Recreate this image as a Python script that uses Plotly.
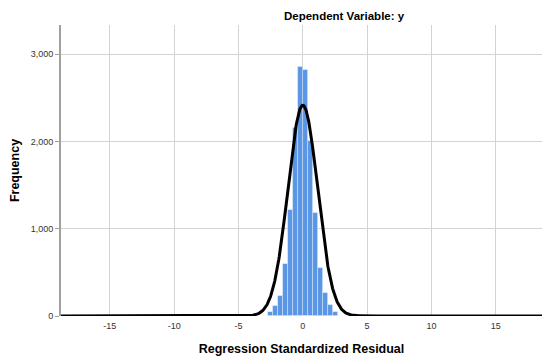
import numpy as np
import plotly.graph_objects as go

# Histogram data
bin_width = 0.39
bin_centers = [-2.535, -2.145, -1.755, -1.365, -0.975, -0.585, -0.195,
               0.195, 0.585, 0.975, 1.365, 1.755, 2.145, 2.535]
counts = [45, 115, 230, 600, 1210, 2150, 2850, 2820, 2010, 1180, 550, 265, 125, 50]

# Normal curve parameters
curve_mean = 0.0
curve_sd = 1.15
curve_peak = 2414

x_ticks = [-15, -10, -5, 0, 5, 10, 15]
y_ticks = [0, 1000, 2000, 3000]
y_tick_text = ["0", "1,000", "2,000", "3,000"]

x_range = [-18.8, 18.6]
y_range = [0, 3333]

xs = np.linspace(x_range[0], x_range[1], 1200)
ys = curve_peak * np.exp(-0.5 * ((xs - curve_mean) / curve_sd) ** 2)

font_family = "Arial, Liberation Sans, sans-serif"

fig = go.Figure()
fig.add_trace(go.Bar(
    x=bin_centers, y=counts, width=bin_width,
    marker=dict(color="#5a96e6", line=dict(color="rgba(255,255,255,0.45)", width=0.8)),
    showlegend=False, hoverinfo="skip",
))
fig.add_trace(go.Scatter(
    x=xs, y=ys, mode="lines",
    line=dict(color="#000000", width=3),
    showlegend=False, hoverinfo="skip", cliponaxis=False,
))

fig.update_layout(
    width=542, height=356,
    margin=dict(l=61, r=0, t=25, b=40),
    paper_bgcolor="white", plot_bgcolor="white",
    font=dict(family=font_family, color="#222222"),
    bargap=0,
    annotations=[dict(
        text="<b>Dependent Variable: y</b>", x=0.59, y=1.032,
        xref="paper", yref="paper", xanchor="center", yanchor="middle",
        showarrow=False, font=dict(size=11.5, color="#000000", family=font_family),
    )],
)
fig.update_xaxes(
    range=x_range, tickvals=x_ticks, ticktext=[str(v) for v in x_ticks],
    showgrid=True, gridcolor="#d3d3d3", gridwidth=1,
    zeroline=False, showline=False, ticks="",
    tickfont=dict(size=9, color="#333333"), ticklabelstandoff=3,
    title=dict(text="<b>Regression Standardized Residual</b>",
               font=dict(size=12.5, color="#000000"), standoff=14),
)
fig.update_yaxes(
    range=y_range, tickvals=y_ticks, ticktext=y_tick_text,
    showgrid=True, gridcolor="#d3d3d3", gridwidth=1,
    zeroline=False, showline=True, linecolor="#a0a0a0", linewidth=2,
    ticks="outside", ticklen=4, tickcolor="#a0a0a0",
    tickfont=dict(size=9, color="#333333"),
    title=dict(text="<b>Frequency</b>", font=dict(size=12.5, color="#000000"), standoff=8),
)

fig.write_html("out.html", config={"displayModeBar": False},
               post_script="document.body.style.margin='0';")
